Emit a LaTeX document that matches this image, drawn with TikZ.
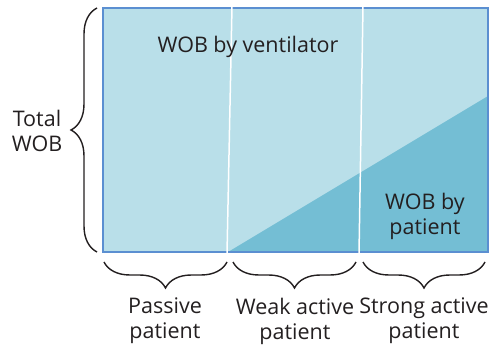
\documentclass[tikz,border=0pt]{standalone}
\usepackage{fontspec}
\setmainfont{Open Sans}
\usetikzlibrary{decorations.pathreplacing}
\definecolor{lightfill}{HTML}{B9DFE9}
\definecolor{darkfill}{HTML}{74BED4}
\definecolor{frameblue}{HTML}{5B8FD1}
\definecolor{inkgray}{HTML}{231F20}
\tikzset{
  lbl/.style={text=inkgray, font=\fontsize{21.5}{25}\selectfont, align=center, inner sep=0pt},
  bracestyle/.style={draw=inkgray, line width=1.4pt, decorate, decoration={brace, amplitude=26pt}},
  divider/.style={draw=white, line width=1.5pt}
}
\begin{document}
\begin{tikzpicture}[x=1pt,y=-1pt]
\useasboundingbox (0,0) rectangle (490,347);
% corners
\coordinate (tl) at (103,8);
\coordinate (br) at (488,252);
\coordinate (start) at (228,252);
\coordinate (rmid) at (488,96);
\fill[lightfill] (tl) rectangle (br);
\fill[darkfill] (start) -- (rmid) -- (br) -- cycle;
\draw[frameblue, line width=1.6pt] (tl) rectangle (br);
% dividers
\coordinate (d1t) at (232,6);
\coordinate (d1b) at (227,254);
\coordinate (d2t) at (363,6);
\coordinate (d2b) at (359,254);
\draw[divider] (d1t) -- (d1b);
\draw[divider] (d2t) -- (d2b);
% texts
\node[lbl] (vent) at (248,47) {WOB by ventilator};
\node[lbl] (pat) at (425,216) {WOB by\\patient};
\node[lbl] (total) at (37,131) {Total\\WOB};
\node[lbl] (passive) at (165,321) {Passive\\patient};
\node[lbl] (weak) at (295,321) {Weak active\\patient};
\node[lbl] (strong) at (424,321) {Strong active\\patient};
% braces
\coordinate (lb1) at (97,252);
\coordinate (lb2) at (97,8);
\draw[bracestyle] (lb1) -- (lb2);
\coordinate (b1r) at (227,262);
\coordinate (b1l) at (104,262);
\coordinate (b2r) at (356,262);
\coordinate (b2l) at (233,262);
\coordinate (b3r) at (485,262);
\coordinate (b3l) at (363,262);
\draw[bracestyle] (b1r) -- (b1l);
\draw[bracestyle] (b2r) -- (b2l);
\draw[bracestyle] (b3r) -- (b3l);
\end{tikzpicture}
\end{document}
